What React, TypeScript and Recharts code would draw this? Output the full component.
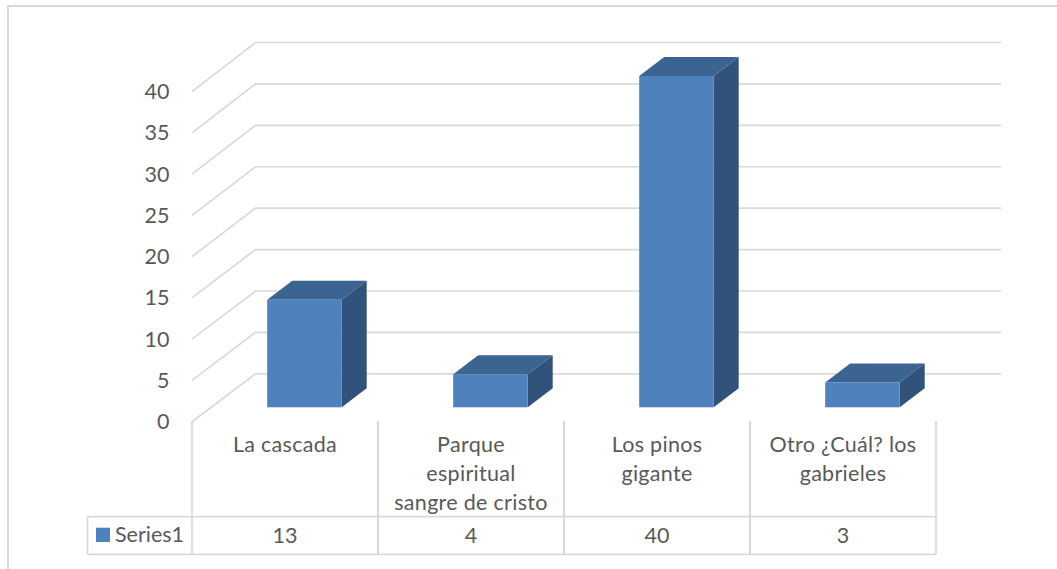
import React from "react";
import { BarChart, Bar, XAxis, YAxis, CartesianGrid } from "recharts";

const categories = ["La cascada", "Parque espiritual sangre de cristo", "Los pinos gigante", "Otro ¿Cuál? los gabrieles"];
const categoryLines = [["La cascada"], ["Parque", "espiritual", "sangre de cristo"], ["Los pinos", "gigante"], ["Otro ¿Cuál? los", "gabrieles"]];
const series1 = [13, 4, 40, 3];
const yTicks = [0, 5, 10, 15, 20, 25, 30, 35, 40];
const data = categories.map((name, i) => ({ name, Series1: series1[i] }));

const GRID = "#d9d9d9";
const TEXT = "#595959";
const FONT_SIZE = 21.5;
const DX = 25;
const DY = 19;

// front-plane y for a bar-plane y
const frontY = (y: number) => 421.7 - ((407.3 - y) * 8.25) / 8.28;

const Box3D = (props: any) => {
  const { x, y, width, height } = props;
  const r = x + width;
  const b = y + height;
  return (
    <g>
      <polygon points={`${x},${y} ${x + DX},${y - DY} ${r + DX},${y - DY} ${r},${y}`} fill="#3b6491" />
      <polygon points={`${r},${y} ${r + DX},${y - DY} ${r + DX},${b - DY} ${r},${b}`} fill="#30527b" />
      <rect x={x} y={y} width={width} height={height} fill="#4f81bd" />
    </g>
  );
};

const GridLine = (props: any) => {
  const y = props.y1;
  const back = y - 33.5;
  return (
    <polyline
      key={y}
      points={`192,${frontY(y)} 255.5,${back} 1001,${back}`}
      fill="none"
      stroke={GRID}
      strokeWidth={1.7}
    />
  );
};

const YTick = (props: any) => (
  <text x={169.5} y={frontY(props.y) - 0.5} textAnchor="end" dominantBaseline="central" fontSize={FONT_SIZE} fill={TEXT}>
    {props.payload.value}
  </text>
);

const line = (x1: number, y1: number, x2: number, y2: number) => (
  <line x1={x1} y1={y1} x2={x2} y2={y2} stroke={GRID} strokeWidth={1.7} />
);

const XTick = (props: any) => {
  const i = props.index;
  const left = props.x - 112.2;
  const right = props.x + 73.8;
  const mid = (left + right) / 2;
  return (
    <g>
      {line(left, 421, left, 554.3)}
      {line(right, 421, right, 554.3)}
      {line(left, 516.7, right, 516.7)}
      {line(left, 554.3, right, 554.3)}
      {categoryLines[i].map((t, k) => (
        <text key={t} x={mid} y={444.3 + k * 29} textAnchor="middle" dominantBaseline="central" fontSize={FONT_SIZE} letterSpacing={0.3} fill={TEXT}>
          {t}
        </text>
      ))}
      <text x={mid} y={535} textAnchor="middle" dominantBaseline="central" fontSize={FONT_SIZE} fill={TEXT}>
        {series1[i]}
      </text>
      {i === 0 && (
        <g>
          {line(87.5, 516.7, left, 516.7)}
          {line(87.5, 554.3, left, 554.3)}
          {line(87.5, 516.7, 87.5, 554.3)}
          <rect x={96} y={527.7} width={14} height={14.3} fill="#4f81bd" />
          <text x={115} y={534} dominantBaseline="central" fontSize={FONT_SIZE} fill={TEXT}>
            Series1
          </text>
        </g>
      )}
    </g>
  );
};

export default function App() {
  return (
    <div style={{ position: "fixed", left: 0, top: 0, width: 1057, height: 569, background: "#fff", fontFamily: "Lato, sans-serif", overflow: "hidden" }}>
      <div style={{ position: "absolute", left: 7, top: 5, right: 0, bottom: -5, borderLeft: `2px solid ${GRID}`, borderTop: `2px solid ${GRID}` }} />
      <BarChart
        width={1057}
        height={569}
        data={data}
        margin={{ left: 151.2, right: 101.8, top: 76, bottom: 131.7 }}
        style={{ position: "absolute", left: 0, top: 0 }}
      >
        <CartesianGrid vertical={false} horizontal={GridLine} />
        <XAxis dataKey="name" interval={0} height={30} axisLine={false} tickLine={false} tick={XTick} />
        <YAxis width={60} domain={[0, 40]} ticks={yTicks} axisLine={false} tickLine={false} tick={YTick} />
        <Bar dataKey="Series1" barSize={74.5} shape={Box3D} isAnimationActive={false} />
      </BarChart>
    </div>
  );
}
